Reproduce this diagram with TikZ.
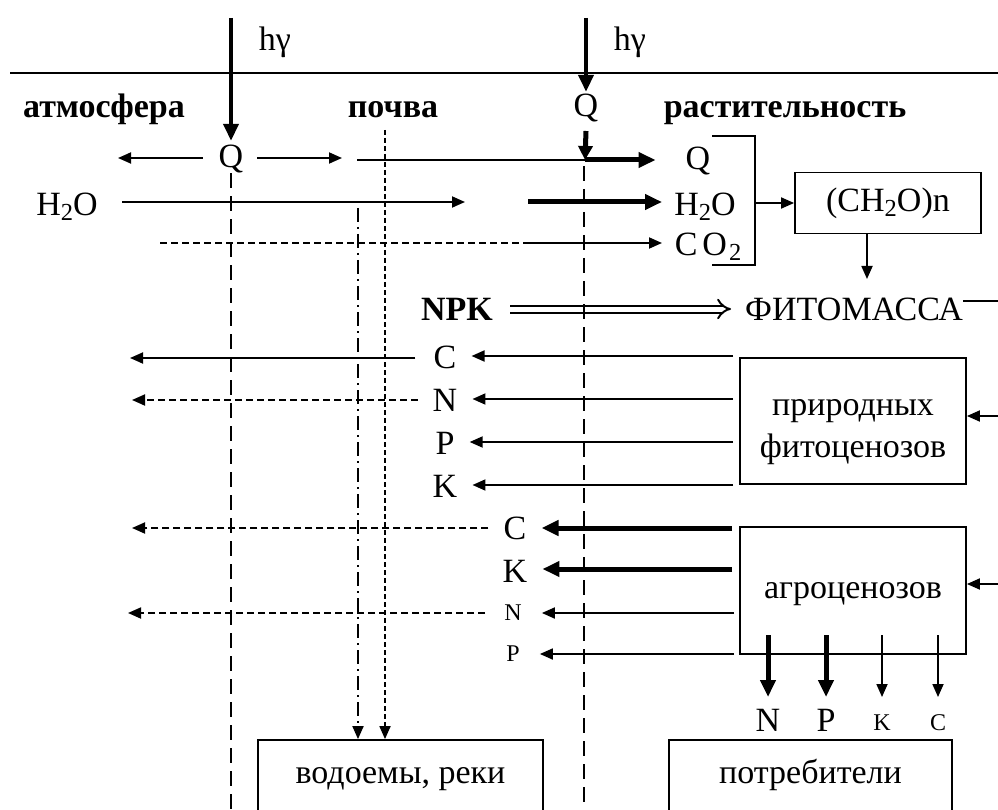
\documentclass[tikz,border=0pt]{standalone}
\usepackage{fontspec}
\setmainfont{Liberation Serif}
\usetikzlibrary{arrows.meta}
\newcommand\mysub[1]{\raisebox{-0.35ex}{\scalebox{0.72}{#1}}}
\begin{document}
\begin{tikzpicture}[x=1pt,y=-1pt,
  every node/.style={font=\fontsize{34}{40}\selectfont, inner sep=0pt},
  small/.style={font=\fontsize{24}{28}\selectfont},
  bold/.style={font=\fontsize{34}{40}\selectfont\bfseries},
  ln/.style={line width=1.8pt},
  thk/.style={line width=5pt},
  tip/.style={ln,-{Triangle[length=13pt,width=11pt]}},
  bigtip/.style={thk,-{Triangle[length=17pt,width=15pt]}},
  box/.style={draw, line width=1.8pt},
  longdash/.style={line width=1.8pt, dash pattern=on 15pt off 8pt},
  dashdot/.style={line width=1.8pt, dash pattern=on 14pt off 5pt on 2pt off 5pt},
  shortdash/.style={line width=1.8pt, dash pattern=on 5pt off 3pt},
  hdash/.style={line width=1.8pt, dash pattern=on 7pt off 4pt}]
\useasboundingbox (0,0) rectangle (998,810);

% top line and incoming radiation
\coordinate (hl) at (10,73);
\coordinate (hr) at (998,73);
\draw[ln] (hl) -- (hr);
\node (hv1) at (275,42) {hγ};
\node (hv2) at (630,42) {hγ};
\coordinate (s1) at (231,18);
\coordinate (s2) at (586,18);

% headers
\node[bold, anchor=base] (atm) at (104,118) {атмосфера};
\node[bold, anchor=base] (soil) at (393,118) {почва};
\node[bold, anchor=base] (veg) at (785,118) {растительность};
\node (QT) at (586,108) {Q};
\node (Q1) at (231,159) {Q};
\node (Q2) at (698,161) {Q};

\draw[bigtip, line width=4.5pt, shorten >=4pt] (s1) -- (Q1.north);
\draw[bigtip, line width=4.5pt, shorten >=2pt] (s2) -- (QT.north);

% Q row
\coordinate (qL) at (118,158);
\coordinate (qR) at (342,158);
\draw[tip, shorten <=16pt] (Q1.west |- qL) -- (qL);
\draw[tip, shorten <=14pt] (Q1.east |- qR) -- (qR);
\coordinate (j1) at (357,160);
\coordinate (j2) at (585,160);
\draw[ln] (j1) -- (j2);
\draw[bigtip, shorten >=30pt] (j2) -- (j2 -| Q2.west);
\coordinate (qd1) at (586,131);
\draw[thk, -{Triangle[length=14pt,width=14pt]}] (qd1) -- (j2);

% H2O row
\node (wL) at (67,207) {H\mysub{2}O};
\node (wR) at (705,207) {H\mysub{2}O};
\coordinate (w1) at (122,202);
\coordinate (w2) at (465,202);
\coordinate (w3) at (528,202);
\coordinate (w4) at (662,202);
\draw[tip] (w1) -- (w2);
\draw[bigtip] (w3) -- (w4);

% CO2 row
\node (co2) at (708,247) {C\hspace{5pt}O\hspace{2pt}\mysub{2}};
\coordinate (c1) at (160,243);
\coordinate (c2) at (527,243);
\coordinate (c3) at (662,243);
\draw[hdash] (c1) -- (c2);
\draw[tip] (c2) -- (c3);

% bracket and (CH2O)n
\coordinate (b1) at (712,136);
\coordinate (b2) at (755,136);
\coordinate (b3) at (755,265);
\coordinate (b4) at (712,265);
\draw[ln] (b1) -- (b2) -- (b3) -- (b4);
\node[box, minimum width=186pt, minimum height=61pt] (ch) at (888,203) {(CH\mysub{2}O)n};
\coordinate (bm) at (755,203);
\draw[tip] (bm) -- (ch.west);

% phytomass
\node (fm) at (854,309) {ФИТОМАССА};
\coordinate (ch1) at (867,234);
\coordinate (ch2) at (867,279);
\draw[tip] (ch1) -- (ch2);
\coordinate (fmr) at (998,301);
\draw[ln] (fm.east |- fmr) -- (fmr);
\node[bold] (npk) at (457,309) {NPK};
\draw[double, double distance=5pt, line width=2pt, -{Implies[length=10pt,width=24pt]}, shorten <=17pt, shorten >=14pt] (npk.east) -- (npk.east -| fm.west);

% natural phytocenoses
\node[box, minimum width=226pt, minimum height=126pt] (nat) at (853,421) {};
\node[anchor=base] (nat1) at (853,415) {природных};
\node[anchor=base] (nat2) at (853,457) {фитоценозов};
\coordinate (rin1) at (998,416);
\draw[tip] (rin1) -- (rin1 -| nat.east);
\node (nc) at (445,357) {C};
\node (nn) at (445,400) {N};
\node (np) at (445,443) {P};
\node (nk) at (445,486) {K};
\foreach \n in {nc,nn,np,nk}
  \draw[tip, shorten <=6pt, shorten >=15pt] ([yshift=1pt]\n -| nat.west) -- ([yshift=1pt]\n.east);
\coordinate (nc0) at (130,358);
\coordinate (nn0) at (132,400);
\draw[tip, shorten <=18pt] (nc.west |- nc0) -- (nc0);
\draw[hdash, -{Triangle[length=13pt,width=11pt]}, shorten <=15pt] (nn.west |- nn0) -- (nn0);

% agrocenoses
\node[box, minimum width=226pt, minimum height=127pt, text height=22pt, text depth=7pt] (agro) at (853,590.5) {агроценозов};
\coordinate (rin2) at (998,584);
\draw[tip] (rin2) -- (rin2 -| agro.east);
\node (ac) at (515,528) {C};
\node (ak) at (515,571) {K};
\node[small] (an) at (513,613) {N};
\node[small] (ap) at (513,654) {P};
\draw[bigtip, shorten <=7pt, shorten >=15pt] (ac -| agro.west) -- (ac.east);
\draw[bigtip, shorten <=7pt, shorten >=15pt] ([yshift=2pt]ak -| agro.west) -- ([yshift=2pt]ak.east);
\draw[tip, shorten <=5pt, shorten >=20pt] (an -| agro.west) -- (an.east);
\draw[tip, shorten <=5pt, shorten >=20pt] (ap -| agro.west) -- (ap.east);
\coordinate (ac0) at (132,528);
\coordinate (an0) at (128,613);
\draw[hdash, -{Triangle[length=13pt,width=11pt]}, shorten <=15pt] (ac.west |- ac0) -- (ac0);
\draw[hdash, -{Triangle[length=13pt,width=11pt]}, shorten <=19pt] (an.west |- an0) -- (an0);

% outputs to consumers
\node (dn) at (768,720) {N};
\node (dp) at (826,720) {P};
\node[small] (dk) at (882,723) {K};
\node[small] (dc) at (938,723) {C};
\coordinate (a1) at (768,635);
\coordinate (a2) at (826,635);
\coordinate (a3) at (882,635);
\coordinate (a4) at (938,635);
\coordinate (e1) at (768,697);
\coordinate (e2) at (826,697);
\coordinate (e3) at (882,697);
\coordinate (e4) at (938,697);
\draw[bigtip] (a1) -- (e1);
\draw[bigtip] (a2) -- (e2);
\draw[tip] (a3) -- (e3);
\draw[tip] (a4) -- (e4);

% bottom boxes
\node[box, minimum width=283pt, minimum height=76pt, text height=18pt, text depth=8pt] (pot) at (810.5,778) {потребители};
\node[box, minimum width=285pt, minimum height=76pt, text height=18pt, text depth=8pt] (vod) at (400.5,778) {водоемы, реки};

% vertical lines
\coordinate (v1b) at (231,812);
\draw[longdash] (Q1.south) -- (v1b);
\coordinate (v4t) at (584,166);
\coordinate (v4b) at (584,812);
\draw[longdash] (v4t) -- (v4b);
\coordinate (v2t) at (358,208);
\coordinate (v3t) at (385,130);
\draw[dashdot, -{Triangle[length=13pt,width=11pt]}] (v2t) -- (v2t |- vod.north);
\draw[shortdash, -{Triangle[length=13pt,width=11pt]}] (v3t) -- (v3t |- vod.north);
\end{tikzpicture}
\end{document}
